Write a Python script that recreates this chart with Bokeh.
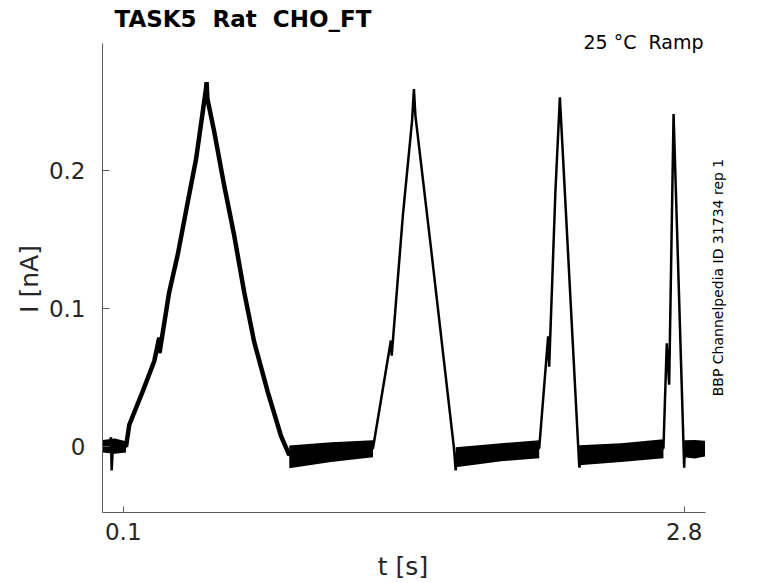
import math
from bokeh.plotting import figure
from bokeh.models import Label, Range1d, FixedTicker
from bokeh.embed import file_html
from bokeh.resources import INLINE

# ---------------- data ----------------
t_trace = [0.000, 0.035, 0.041, 0.044, 0.050,
           0.113, 0.129, 0.193, 0.249, 0.273, 0.2745, 0.321, 0.362, 0.410, 0.450,
           0.482, 0.498, 0.501, 0.505, 0.538, 0.586, 0.634, 0.682, 0.730, 0.795,
           0.859, 0.899,
           1.100, 1.302, 1.388, 1.392, 1.446, 1.490, 1.499, 1.506,
           1.581, 1.691, 1.700, 1.706, 1.900, 2.102, 2.145, 2.150, 2.180, 2.2015,
           2.294, 2.296, 2.300, 2.500, 2.700, 2.716, 2.7275, 2.7487, 2.7998, 2.803,
           2.900]
i_trace = [0.000, 0.002, 0.007, -0.017, 0.000,
           0.000, 0.016, 0.040, 0.062, 0.079, 0.068, 0.112, 0.139, 0.177, 0.208,
           0.242, 0.259, 0.264, 0.252, 0.228, 0.189, 0.153, 0.112, 0.076, 0.040,
           0.008, -0.006,
           -0.004, -0.001, 0.077, 0.066, 0.168, 0.236, 0.259, 0.240,
           0.144, 0.000, -0.017, -0.004, -0.004, -0.001, 0.080, 0.058, 0.185, 0.253,
           -0.012, -0.015, -0.006, -0.004, -0.001, 0.075, 0.045, 0.241, -0.015, -0.001,
           0.000]

# noise envelope of the flat (holding) sections
env_t = [[0.000, 0.060, 0.113],
         [0.899, 1.100, 1.302],
         [1.700, 1.920, 2.102],
         [2.294, 2.495, 2.700],
         [2.800, 2.850, 2.900]]
env_hi = [[0.005, 0.006, 0.004],
          [0.001, 0.0033, 0.0048],
          [-0.0003, 0.0026, 0.0048],
          [0.0012, 0.0026, 0.0055],
          [0.0048, 0.0050, 0.0045]]
env_lo = [[-0.004, -0.005, -0.004],
          [-0.0155, -0.011, -0.0075],
          [-0.0148, -0.0104, -0.0082],
          [-0.0133, -0.011, -0.0082],
          [-0.0075, -0.0085, -0.0070]]

x_ticks = [0.1, 2.8]
y_ticks = [0, 0.1, 0.2]
x_lim = (0.0, 2.9)
y_lim = (-0.0475, 0.292)

title_text = "TASK5 \u00a0Rat \u00a0CHO_FT"
cond_text = "25 °C \u00a0Ramp"
side_text = "BBP Channelpedia ID 31734 rep 1"
x_label = "t [s]"
y_label = "I [nA]"

FONT = "DejaVu Sans"
AX = "#262626"

# ---------------- layout (pixels) ----------------
W, H = 778, 583
AX_L, AX_R, AX_T, AX_B = 102, 704.5, 43, 512   # axes box in the picture
# the frame covers the whole canvas; the axes sit at fixed locations on the box
px_x = (AX_R - AX_L) / (x_lim[1] - x_lim[0])
px_y = (AX_B - AX_T) / (y_lim[1] - y_lim[0])
x_start = x_lim[0] - AX_L / px_x
x_end = x_lim[1] + (W - AX_R) / px_x
y_start = y_lim[0] - (H - AX_B) / px_y
y_end = y_lim[1] + AX_T / px_y

p = figure(width=W, height=H, output_backend="svg", toolbar_location=None,
           x_range=Range1d(x_start, x_end), y_range=Range1d(y_start, y_end),
           min_border_left=0, min_border_right=0, min_border_top=0,
           min_border_bottom=0)
p.outline_line_color = None
p.grid.visible = False
p.background_fill_color = "white"
p.border_fill_color = "white"

for ax in (p.xaxis[0], p.yaxis[0]):
    ax.axis_line_color = "#5a5a5a"
    ax.axis_line_width = 1
    ax.major_tick_line_color = "#5a5a5a"
    ax.major_tick_in = 7
    ax.major_tick_out = 0
    ax.minor_tick_line_color = None
    ax.major_label_text_font = FONT
    ax.major_label_text_font_size = "23px"
    ax.major_label_text_color = AX

p.xaxis.fixed_location = y_lim[0]
p.yaxis.fixed_location = x_lim[0]
p.xaxis.bounds = x_lim
p.yaxis.bounds = y_lim
p.xaxis.ticker = FixedTicker(ticks=x_ticks)
p.yaxis.ticker = FixedTicker(ticks=y_ticks)
p.xaxis.major_label_standoff = 10
p.yaxis.major_label_standoff = 17
p.xaxis.major_tick_in = 6

# ---------------- marks ----------------
for tt, hi, lo in zip(env_t, env_hi, env_lo):
    p.varea(x=tt, y1=lo, y2=hi, fill_color="black")

p.line(t_trace, i_trace, line_color="black", line_width=2.5)
# thicker (noisier) first ramp
p.line(t_trace[5:27], i_trace[5:27], line_color="black", line_width=4.5)

# ---------------- texts (screen units, given from the top-left corner) ----------------
def lab(x, y, text, size, **kw):
    p.add_layout(Label(x=x, y=H - y, x_units="screen", y_units="screen", text=text,
                       text_font=FONT, text_font_size=size, text_baseline="middle", **kw))

lab(114, 18, title_text, "23px", text_font_style="bold", text_color="black",
    text_align="left")
lab(703, 41, cond_text, "19px", text_color="black", text_align="right")
lab(717, 277, side_text, "14px", text_color="black", text_align="center",
    angle=math.pi / 2)
lab(29, 278.5, y_label, "25px", text_color=AX, text_align="center", angle=math.pi / 2)
lab(402.5, 566, x_label, "25px", text_color=AX, text_align="center")

open("out.html", "w").write(file_html(p, INLINE))
